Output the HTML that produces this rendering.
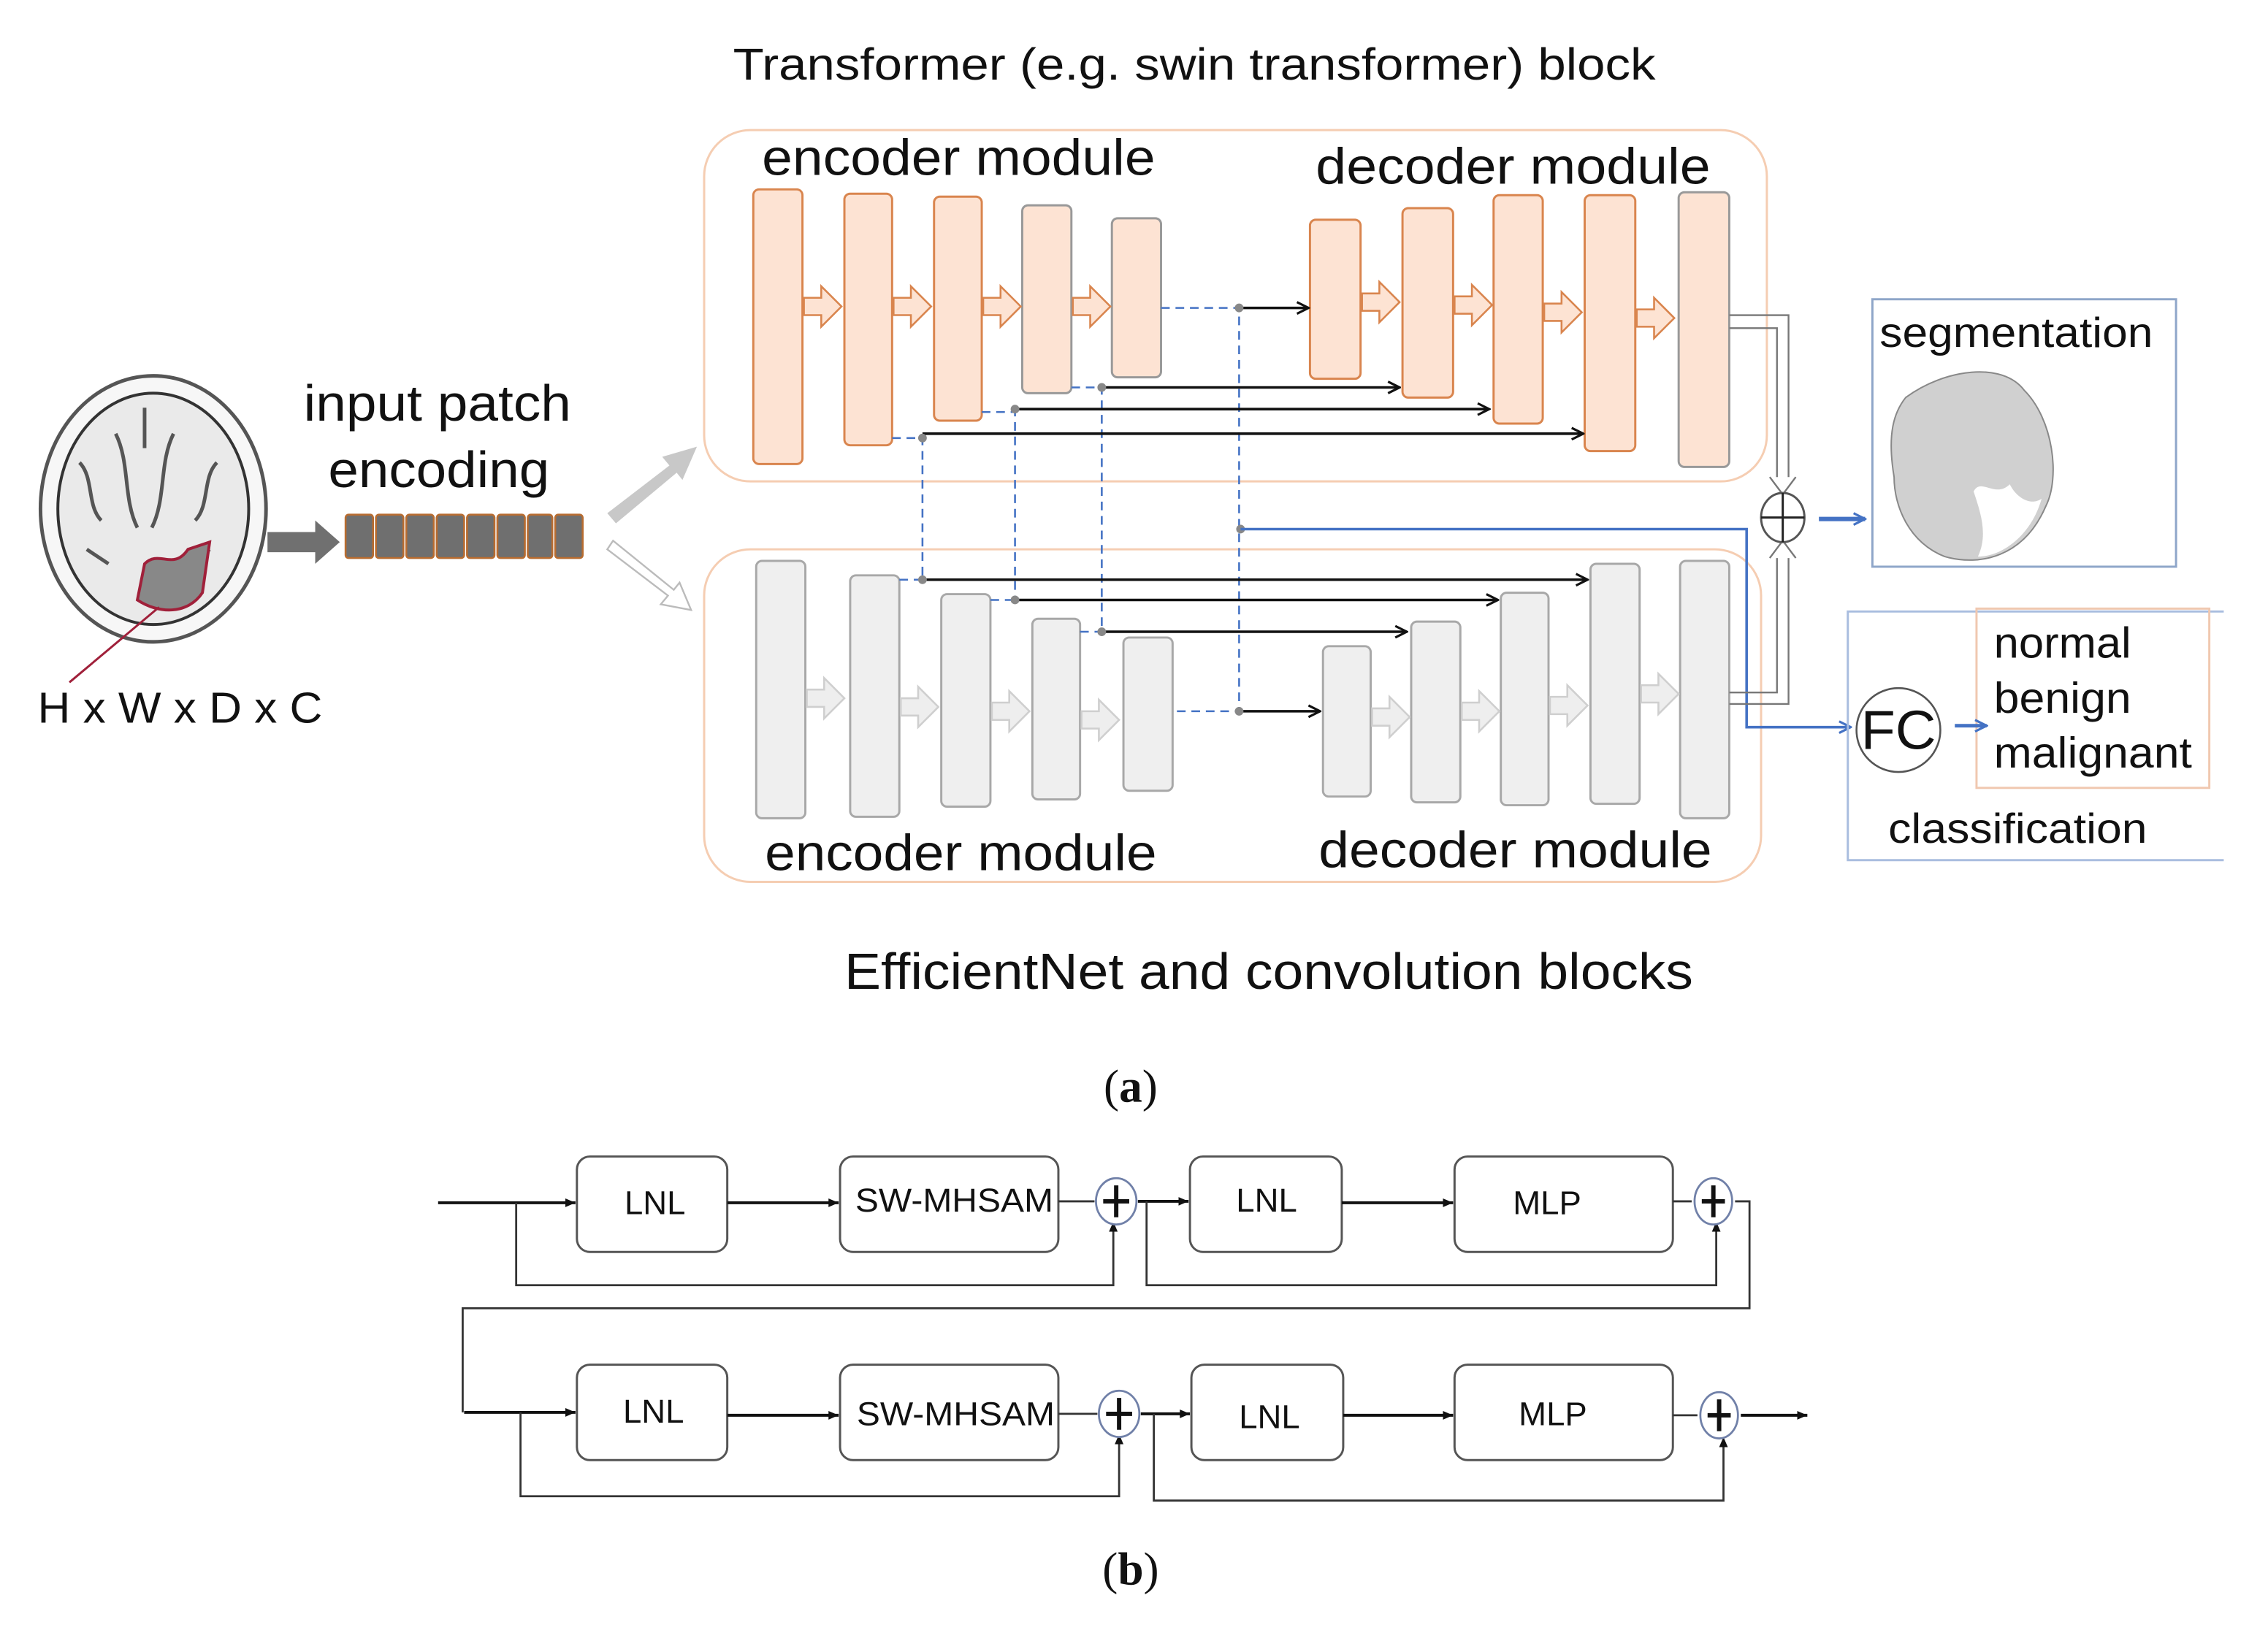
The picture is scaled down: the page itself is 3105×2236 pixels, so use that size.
<!DOCTYPE html>
<html><head><meta charset="utf-8"><style>
html,body{margin:0;padding:0;background:#fff}
svg{display:block}
text{font-family:"Liberation Sans",sans-serif;fill:#111}
</style></head><body>
<svg width="3105" height="2236" viewBox="0 0 1568.6 1129.6" xmlns="http://www.w3.org/2000/svg">
<defs>
<marker id="ah" markerWidth="10" markerHeight="10" refX="9" refY="5" orient="auto" markerUnits="userSpaceOnUse"><path d="M1,1 L9,5 L1,9" fill="none" stroke="#111" stroke-width="1.6"/></marker>
<marker id="ab" markerWidth="10" markerHeight="10" refX="9" refY="5" orient="auto" markerUnits="userSpaceOnUse"><path d="M1,1 L9,5 L1,9" fill="none" stroke="#4472c4" stroke-width="1.6"/></marker>
<marker id="as" markerWidth="8" markerHeight="8" refX="7" refY="4" orient="auto" markerUnits="userSpaceOnUse"><path d="M0,1 L7,4 L0,7z" fill="#111"/></marker>
</defs>
<rect width="1568.6" height="1129.6" fill="#fff"/>
<text x="507" y="55" font-size="31" textLength="638" lengthAdjust="spacingAndGlyphs">Transformer (e.g. swin transformer) block</text>
<rect x="487" y="90" width="735" height="243" rx="32" fill="#fff" stroke="#f5cdb2" stroke-width="1.5"/>
<rect x="487" y="380" width="731" height="230" rx="32" fill="#fff" stroke="#f5cdb2" stroke-width="1.5"/>
<text x="527" y="121" font-size="35" textLength="272" lengthAdjust="spacingAndGlyphs">encoder module</text>
<text x="910" y="127" font-size="35" textLength="273" lengthAdjust="spacingAndGlyphs">decoder module</text>
<text x="529" y="602" font-size="35" textLength="271" lengthAdjust="spacingAndGlyphs">encoder module</text>
<text x="912" y="600" font-size="35" textLength="272" lengthAdjust="spacingAndGlyphs">decoder module</text>
<g fill="#fde3d3" stroke="#d9854e" stroke-width="1.5">
<rect x="521" y="131" width="34" height="190" rx="4"/>
<rect x="584" y="134" width="33" height="174" rx="4"/>
<rect x="646" y="136" width="33" height="155" rx="4"/>
<rect x="707" y="142" width="34" height="130" rx="4" stroke="#999"/>
<rect x="769" y="151" width="34" height="110" rx="4" stroke="#999"/>
<rect x="906" y="152" width="35" height="110" rx="4"/>
<rect x="970" y="144" width="35" height="131" rx="4"/>
<rect x="1033" y="135" width="34" height="158" rx="4"/>
<rect x="1096" y="135" width="35" height="177" rx="4"/>
<rect x="1161" y="133" width="35" height="190" rx="4" stroke="#999"/>
</g>
<g fill="#fde3d3" stroke="#d9854e" stroke-width="1.3">
<path d="M556,206h12v-8l14,14l-14,14v-8h-12z"/>
<path d="M618,206h12v-8l14,14l-14,14v-8h-12z"/>
<path d="M680,206h12v-8l14,14l-14,14v-8h-12z"/>
<path d="M742,206h12v-8l14,14l-14,14v-8h-12z"/>
<path d="M942,203h12v-8l14,14l-14,14v-8h-12z"/>
<path d="M1006,205h12v-8l14,14l-14,14v-8h-12z"/>
<path d="M1068,210h12v-8l14,14l-14,14v-8h-12z"/>
<path d="M1132,214h12v-8l14,14l-14,14v-8h-12z"/>
</g>
<g fill="#efefef" stroke="#a8a8a8" stroke-width="1.5">
<rect x="523" y="388" width="34" height="178" rx="4"/>
<rect x="588" y="398" width="34" height="167" rx="4"/>
<rect x="651" y="411" width="34" height="147" rx="4"/>
<rect x="714" y="428" width="33" height="125" rx="4"/>
<rect x="777" y="441" width="34" height="106" rx="4"/>
<rect x="915" y="447" width="33" height="104" rx="4"/>
<rect x="976" y="430" width="34" height="125" rx="4"/>
<rect x="1038" y="410" width="33" height="147" rx="4"/>
<rect x="1100" y="390" width="34" height="166" rx="4"/>
<rect x="1162" y="388" width="34" height="178" rx="4"/>
</g>
<g fill="#eeeeee" stroke="#cfcfcf" stroke-width="1.3">
<path d="M558,477h12v-8l14,14l-14,14v-8h-12z"/>
<path d="M623,483h12v-8l14,14l-14,14v-8h-12z"/>
<path d="M686,486h12v-8l14,14l-14,14v-8h-12z"/>
<path d="M748,492h12v-8l14,14l-14,14v-8h-12z"/>
<path d="M949,490h12v-8l14,14l-14,14v-8h-12z"/>
<path d="M1011,486h12v-8l14,14l-14,14v-8h-12z"/>
<path d="M1072,482h12v-8l14,14l-14,14v-8h-12z"/>
<path d="M1135,474h12v-8l14,14l-14,14v-8h-12z"/>
</g>
<g stroke="#4472c4" stroke-width="1.3" stroke-dasharray="6,4" fill="none">
<path d="M617,303H638V403"/>
<path d="M679,285H702V415"/>
<path d="M741,268H762V437"/>
<path d="M803,213H857V492H811"/>
<path d="M622,401H638"/>
<path d="M685,415H702"/>
<path d="M747,437H762"/>
</g>
<g stroke="#111" stroke-width="1.8" fill="none" marker-end="url(#ah)">
<path d="M762,268H968"/>
<path d="M702,283H1030"/>
<path d="M638,300H1095"/>
<path d="M857,213H905"/>
<path d="M638,401H1098"/>
<path d="M702,415H1036"/>
<path d="M762,437H973"/>
<path d="M857,492H913"/>
</g>
<g fill="#888"><circle cx="638" cy="303" r="3"/><circle cx="702" cy="283" r="3"/><circle cx="762" cy="268" r="3"/><circle cx="857" cy="213" r="3"/><circle cx="638" cy="401" r="3"/><circle cx="702" cy="415" r="3"/><circle cx="762" cy="437" r="3"/><circle cx="857" cy="492" r="3"/><circle cx="858" cy="366" r="3"/></g>
<path d="M858,366H1208V503H1280" fill="none" stroke="#4472c4" stroke-width="1.8" marker-end="url(#ab)"/>
<path d="M1196,218H1237V336M1196,227H1229V336" fill="none" stroke="#777" stroke-width="1.2"/>
<path d="M1224,330l9,12l9,-12" fill="#fff" stroke="#777" stroke-width="1.2"/>
<path d="M1196,487H1237V380M1196,479H1229V380" fill="none" stroke="#777" stroke-width="1.2"/>
<path d="M1224,386l9,-12l9,12" fill="#fff" stroke="#777" stroke-width="1.2"/>
<ellipse cx="1233" cy="358" rx="15" ry="17" fill="#fff" stroke="#555" stroke-width="1.5"/>
<path d="M1218,358H1248M1233,341V375" stroke="#222" stroke-width="1.5"/>
<path d="M1258,359H1290" stroke="#4472c4" stroke-width="3" marker-end="url(#ab)"/>
<rect x="1295" y="207" width="210" height="185" fill="#fff" stroke="#8fa6c9" stroke-width="1.5"/>
<text x="1300" y="240" font-size="29" textLength="189" lengthAdjust="spacingAndGlyphs">segmentation</text>
<path d="M1318,275 C1345,255 1385,250 1400,270 C1420,290 1425,330 1415,350 C1400,385 1370,392 1345,385 C1320,375 1310,350 1310,330 C1305,300 1310,285 1318,275z" fill="#d0d0d0" stroke="#888" stroke-width="1"/>
<path d="M1365,340 C1370,330 1380,345 1390,335 C1395,345 1405,350 1412,345 C1405,370 1385,385 1368,385 C1375,370 1370,355 1365,340z" fill="#fff"/>
<path d="M1538,423H1278V595H1538" fill="none" stroke="#a9bddf" stroke-width="1.5"/>
<rect x="1367" y="421" width="161" height="124" fill="none" stroke="#f0c8b0" stroke-width="1.5"/>
<ellipse cx="1313" cy="505" rx="29" ry="29" fill="#fff" stroke="#555" stroke-width="1.3"/>
<text x="1313" y="518" font-size="38" text-anchor="middle" textLength="52" lengthAdjust="spacingAndGlyphs">FC</text>
<path d="M1352,502H1374" stroke="#4472c4" stroke-width="2.5" marker-end="url(#ab)"/>
<text x="1379" y="455" font-size="30" textLength="95" lengthAdjust="spacingAndGlyphs">normal</text>
<text x="1379" y="493" font-size="30" textLength="95" lengthAdjust="spacingAndGlyphs">benign</text>
<text x="1379" y="531" font-size="30" textLength="137" lengthAdjust="spacingAndGlyphs">malignant</text>
<text x="1306" y="583" font-size="29" textLength="179" lengthAdjust="spacingAndGlyphs">classification</text>
<ellipse cx="106" cy="352" rx="78" ry="92" fill="#f7f7f7" stroke="#555" stroke-width="2.5"/>
<ellipse cx="106" cy="352" rx="66" ry="80" fill="#eaeaea" stroke="#333" stroke-width="2"/>
<g stroke="#555" stroke-width="2.5" fill="none">
<path d="M80,300 C90,320 85,345 95,365"/><path d="M120,300 C110,320 115,345 105,365"/>
<path d="M55,320 C65,330 60,350 70,360"/><path d="M150,320 C140,330 145,350 135,360"/>
<path d="M60,380 L75,390"/><path d="M145,380 L130,392"/><path d="M100,282 V310"/>
</g>
<path d="M100,390 C110,380 120,395 130,380 L145,375 L140,410 C130,425 110,425 95,415z" fill="#888" stroke="#a0203a" stroke-width="2"/>
<path d="M48,472 L110,420" stroke="#a0203a" stroke-width="1.5"/>
<text x="26" y="500" font-size="30" textLength="197" lengthAdjust="spacingAndGlyphs">H x W x D x C</text>
<text x="210" y="291" font-size="35" textLength="185" lengthAdjust="spacingAndGlyphs">input patch</text>
<text x="227" y="337" font-size="35" textLength="153" lengthAdjust="spacingAndGlyphs">encoding</text>
<path d="M185,368H218V360L235,375L218,390V382H185z" fill="#707070"/>
<g fill="#6f6f6f" stroke="#b86c30" stroke-width="1.3">
<rect x="239" y="356" width="19" height="30" rx="2"/><rect x="260" y="356" width="19" height="30" rx="2"/><rect x="281" y="356" width="19" height="30" rx="2"/><rect x="302" y="356" width="19" height="30" rx="2"/><rect x="323" y="356" width="19" height="30" rx="2"/><rect x="344" y="356" width="19" height="30" rx="2"/><rect x="365" y="356" width="17" height="30" rx="2"/><rect x="384" y="356" width="19" height="30" rx="2"/>
</g>
<path d="M420,355L463,322L458,316L482,309L472,332L468,327L426,362z" fill="#c8c8c8"/>
<path d="M420,380L462,412L457,418L478,422L470,403L466,408L424,374z" fill="#fff" stroke="#bbb" stroke-width="1.2"/>
<text x="584" y="684" font-size="35" textLength="587" lengthAdjust="spacingAndGlyphs">EfficientNet and convolution blocks</text>
<text x="782" y="762" font-size="32" text-anchor="middle" style="font-family:'Liberation Serif',serif">(<tspan font-weight="bold">a</tspan>)</text>
<g fill="#fff" stroke="#555" stroke-width="1.5">
<rect x="399" y="800" width="104" height="66" rx="9"/><rect x="581" y="800" width="151" height="66" rx="9"/>
<rect x="823" y="800" width="105" height="66" rx="9"/><rect x="1006" y="800" width="151" height="66" rx="9"/>
<rect x="399" y="944" width="104" height="66" rx="9"/><rect x="581" y="944" width="151" height="66" rx="9"/>
<rect x="824" y="944" width="105" height="66" rx="9"/><rect x="1006" y="944" width="151" height="66" rx="9"/>
</g>
<g font-size="23" text-anchor="middle">
<text x="453" y="840">LNL</text><text x="660" y="838" textLength="137" lengthAdjust="spacingAndGlyphs">SW-MHSAM</text><text x="876" y="838">LNL</text><text x="1070" y="840">MLP</text>
<text x="452" y="984">LNL</text><text x="661" y="986" textLength="137" lengthAdjust="spacingAndGlyphs">SW-MHSAM</text><text x="878" y="988">LNL</text><text x="1074" y="986">MLP</text>
</g>
<g stroke="#111" stroke-width="2" fill="none" marker-end="url(#as)">
<path d="M303,832H398"/><path d="M503,832H580"/><path d="M787,831H822"/><path d="M928,832H1005"/>
<path d="M321,977H398"/><path d="M503,979H580"/><path d="M789,978H823"/><path d="M929,979H1005"/><path d="M1204,979H1250"/>
</g>
<g stroke="#333" stroke-width="1.4" fill="none">
<path d="M732,831H757"/><path d="M1157,831H1170"/><path d="M732,978H759"/><path d="M1157,979H1174"/>
<path d="M357,832V889H770V848"/><path d="M793,831V889H1187V848"/>
<path d="M1200,831H1210V905H320V977"/>
<path d="M360,977V1035H774V995"/><path d="M798,978V1038H1192V997"/>
</g>
<g fill="#111"><path d="M767,852l3,-7l3,7z"/><path d="M1184,852l3,-7l3,7z"/><path d="M771,999l3,-7l3,7z"/><path d="M1189,1001l3,-7l3,7z"/></g>
<g fill="#fff" stroke="#7080a8" stroke-width="1.4">
<ellipse cx="772" cy="831" rx="14" ry="16"/><ellipse cx="1185" cy="831" rx="13" ry="16"/>
<ellipse cx="774" cy="978" rx="14" ry="16"/><ellipse cx="1189" cy="979" rx="13" ry="16"/>
</g>
<g stroke="#111" stroke-width="3">
<path d="M763,831H781M772,820V842"/><path d="M1177,831H1193M1185,820V842"/>
<path d="M765,978H783M774,967V989"/><path d="M1181,979H1197M1189,968V990"/>
</g>
<text x="782" y="1096" font-size="32" text-anchor="middle" style="font-family:'Liberation Serif',serif">(<tspan font-weight="bold">b</tspan>)</text>
</svg>
</body></html>
